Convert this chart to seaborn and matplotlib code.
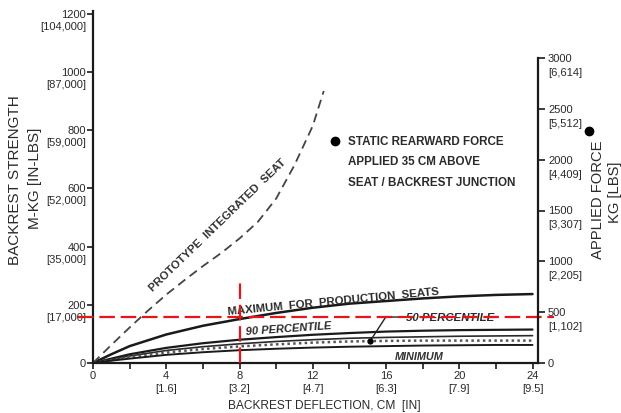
import matplotlib
matplotlib.use("Agg")
import matplotlib.pyplot as plt
import seaborn as sns
import pandas as pd
import numpy as np

# ---------------- data ----------------
defl = [0, 1, 2, 4, 6, 8, 10, 12, 14, 16, 18, 20, 22, 24]
maximum = [0, 30, 58, 98, 128, 151, 172, 190, 204, 213, 222, 229, 234, 237]
pct90 = [0, 15, 30, 52, 68, 80, 89, 97, 103, 108, 111, 113, 114, 115]
upper50 = [0, 12, 24, 43, 56, 66, 74, 80, 85, 88, 90, 92, 93, 94]
pct50 = [0, 10, 20, 36, 48, 57, 64, 70, 74, 76, 77, 77, 77, 77]
minimum = [0, 8, 15, 28, 37, 44, 49, 53, 56, 58, 60, 61, 62, 62]

proto_x = [0, 1, 2, 3, 4, 5, 6, 7, 8, 9, 10, 11, 12, 12.6]
proto_y = [0, 62, 122, 180, 235, 285, 333, 378, 428, 485, 565, 680, 815, 935]

x_ticks = [0, 4, 8, 12, 16, 20, 24]
x_ticks_in = ["", "[1.6]", "[3.2]", "[4.7]", "[6.3]", "[7.9]", "[9.5]"]
y_ticks = [0, 200, 400, 600, 800, 1000, 1200]
y_ticks_in = ["", "[17,000]", "[35,000]", "[52,000]", "[59,000]", "[87,000]", "[104,000]"]
f_ticks = [0, 500, 1000, 1500, 2000, 2500, 3000]
f_ticks_lbs = ["", "[1,102]", "[2,205]", "[3,307]", "[4,409]", "[5,512]", "[6,614]"]

ref_moment = 158     # red horizontal reference
ref_defl = 8         # red vertical reference
ref_top = 278
p50_marker = (15.14, 76)

# ---------------- style ----------------
sns.set_style("ticks")
plt.rcParams['font.family'] = ['Liberation Sans', 'DejaVu Sans']
TXT = "#2a2a2a"

fig = plt.figure(figsize=(6.21, 4.14), dpi=100)
ax = fig.add_axes([93/621, 1-364/414, (538-93)/621, (364-12)/414])
ax.set_xlim(0, 24.3)
ax.set_ylim(0, 1210)

df = pd.DataFrame({"defl": defl, "max": maximum, "p90": pct90,
                   "u50": upper50, "p50": pct50, "min": minimum})
dfp = pd.DataFrame({"defl": proto_x, "val": proto_y})

sns.lineplot(data=df, x="defl", y="max", ax=ax, color="#1a1a1a", lw=1.8)
sns.lineplot(data=df, x="defl", y="p90", ax=ax, color="#1a1a1a", lw=1.6)
sns.lineplot(data=df, x="defl", y="u50", ax=ax, color="#2a2a2a", lw=1.2)
sns.lineplot(data=df, x="defl", y="p50", ax=ax, color="#555555", lw=1.8,
             linestyle=(0, (1, 1.3)))
sns.lineplot(data=df, x="defl", y="min", ax=ax, color="#1a1a1a", lw=1.4)
sns.lineplot(data=dfp, x="defl", y="val", ax=ax, color="#444444", lw=1.3,
             linestyle=(0, (5, 3)))

# red reference lines
ax.hlines(ref_moment, -0.82, 25.2, color="#e8141a", lw=1.6,
          linestyles=[(0, (7, 2.6))], clip_on=False, zorder=6)
ax.vlines(ref_defl, 0, ref_top, color="#e8141a", lw=1.6,
          linestyles=[(0, (7, 2.6))], zorder=6)

# 50 percentile marker + leader
ax.plot([p50_marker[0]], [p50_marker[1]], "o", color="k", ms=3.5, zorder=7)
ax.annotate("50 PERCENTILE", xy=p50_marker, xytext=(17.1, 158),
            ha="left", va="center", fontsize=8.2, fontweight="bold",
            fontstyle="italic", color=TXT,
            arrowprops=dict(arrowstyle="-", color="#222", lw=1.0,
                            shrinkA=0, shrinkB=0, relpos=(0, 0.5),
                            connectionstyle="angle,angleA=0,angleB=57,rad=0"))

# curve labels
ax.text(6.8, 478, "PROTOTYPE  INTEGRATED  SEAT", rotation=44, ha="center",
        va="center", fontsize=8.2, fontweight="bold", color="#333")
ax.text(13.1, 212, "MAXIMUM  FOR  PRODUCTION  SEATS", rotation=5.5, ha="center",
        va="center", fontsize=8.2, fontweight="bold", color=TXT)
ax.text(10.66, 121, "90 PERCENTILE", rotation=4, ha="center", va="center",
        fontsize=8.0, fontweight="bold", fontstyle="italic", color=TXT)
ax.text(17.8, 24, "MINIMUM", ha="center", va="center", fontsize=7.8,
        fontweight="bold", fontstyle="italic", color="#333")

# legend note
ax.plot([13.2], [763], "o", color="k", ms=6)
for i, line in enumerate(["STATIC REARWARD FORCE", "APPLIED 35 CM ABOVE",
                          "SEAT / BACKREST JUNCTION"]):
    ax.text(13.9, 763 - i * 70, line, ha="left", va="center", fontsize=8.4,
            fontweight="bold", color=TXT)

# axes / ticks
for s in ["top", "right"]:
    ax.spines[s].set_visible(False)
for s in ["left", "bottom"]:
    ax.spines[s].set_linewidth(1.6)
    ax.spines[s].set_color("#1a1a1a")
ax.set_xticks(np.arange(0, 25, 2))
ax.set_yticks(y_ticks)
ax.tick_params(axis="both", direction="out", length=4, width=1.2,
               color="#1a1a1a", labelbottom=False, labelleft=False)
ax.set_xlabel("")
ax.set_ylabel("")

for v, s2 in zip(x_ticks, x_ticks_in):
    ax.annotate(str(v), xy=(v, 0), xycoords=ax.get_xaxis_transform(),
                xytext=(0, -12), textcoords="offset pixels", ha="center",
                va="center", fontsize=8, color=TXT)
    if s2:
        ax.annotate(s2, xy=(v, 0), xycoords=ax.get_xaxis_transform(),
                    xytext=(0, -25), textcoords="offset pixels", ha="center",
                    va="center", fontsize=8, color=TXT)

for v, s2 in zip(y_ticks, y_ticks_in):
    ax.annotate(str(v), xy=(0, v), xycoords=ax.get_yaxis_transform(),
                xytext=(-7, 0), textcoords="offset pixels", ha="right",
                va="center", fontsize=8, color=TXT)
    if s2:
        ax.annotate(s2, xy=(0, v), xycoords=ax.get_yaxis_transform(),
                    xytext=(-7, -12), textcoords="offset pixels", ha="right",
                    va="center", fontsize=8, color=TXT)

# right axis (applied force)
ax2 = ax.twinx()
ax2.set_ylim(0, 3000 * 352 / 305)
for s in ["top", "left", "bottom"]:
    ax2.spines[s].set_visible(False)
ax2.spines["right"].set_bounds(0, 3000)
ax2.spines["right"].set_linewidth(1.6)
ax2.spines["right"].set_color("#1a1a1a")
ax2.set_yticks(f_ticks)
ax2.tick_params(axis="y", direction="out", length=5, width=1.2,
                color="#1a1a1a", labelright=False)
for v, s2 in zip(f_ticks, f_ticks_lbs):
    ax2.annotate(str(v), xy=(1, v), xycoords=ax2.get_yaxis_transform(),
                 xytext=(10, 0), textcoords="offset pixels", ha="left",
                 va="center", fontsize=8, color=TXT)
    if s2:
        ax2.annotate(s2, xy=(1, v), xycoords=ax2.get_yaxis_transform(),
                     xytext=(10, -14), textcoords="offset pixels", ha="left",
                     va="center", fontsize=8, color=TXT)

# axis titles
fig.text(324.5/621, 1 - 406/414, "BACKREST DEFLECTION, CM  [IN]", ha="center",
         va="center", fontsize=8.6, color=TXT)
fig.text(15/621, 1 - 180/414, "BACKREST STRENGTH", rotation=90, ha="center",
         va="center", fontsize=11, color=TXT)
fig.text(35/621, 1 - 178/414, "M-KG [IN-LBS]", rotation=90, ha="center",
         va="center", fontsize=11, color=TXT)
fig.text(598/621, 1 - 200/414, "APPLIED FORCE", rotation=90, ha="center",
         va="center", fontsize=10.6, color=TXT)
fig.text(615/621, 1 - 192/414, "KG [LBS]", rotation=90, ha="center",
         va="center", fontsize=10.6, color=TXT)
fig.lines.append(matplotlib.lines.Line2D([589/621], [1 - 132/414], marker="o",
                 ms=6, color="k", transform=fig.transFigure))

fig.savefig("out.png", dpi=100)
